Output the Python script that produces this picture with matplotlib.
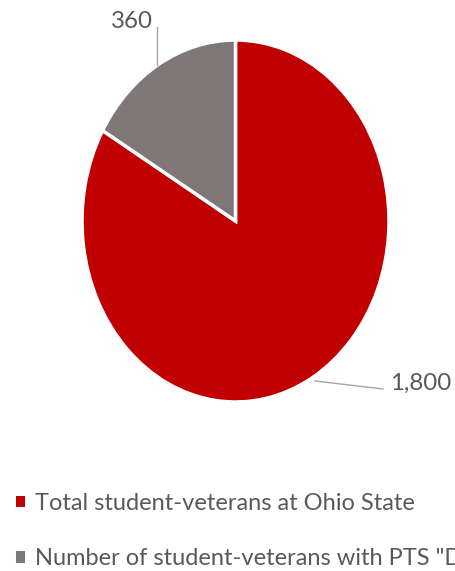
import matplotlib.pyplot as plt

# -------- Datos --------
categorias = ["Total student-veterans at Ohio State",
              "Number of student-veterans with PTS \"Disorder\""]
valores = [1800, 360]
etiquetas = ["1,800", "360"]
colores = ["#C00000", "#7F7777"]

# -------- Configuración --------
plt.rcParams['font.family'] = ['Lato', 'DejaVu Sans']
gris_texto = "#595959"
gris_linea = "#A6A6A6"

W, H = 456, 571
fig = plt.figure(figsize=(W / 100, H / 100), dpi=100)
renderer = fig.canvas.get_renderer()


def tam_por_ancho(texto, ancho_px):
    # tamaño de letra para que el texto ocupe ancho_px
    t = fig.text(0, 0, texto, fontsize=20)
    w = t.get_window_extent(renderer).width
    t.remove()
    return 20 * ancho_px / w


fs_leyenda = tam_por_ancho(categorias[0], 380)
fs_etiqueta = tam_por_ancho(etiquetas[1], 42)

# -------- Pastel (elipse, como en la imagen original) --------
cx, cy, rx, ry = 235.5, 221, 153.5, 181
ax = fig.add_axes([(cx - rx) / W, (H - cy - ry) / H, 2 * rx / W, 2 * ry / H])
wedges, _ = ax.pie(valores, colors=colores, startangle=90, counterclock=False,
                   radius=1, wedgeprops=dict(edgecolor="white", linewidth=2.5))
ax.set_aspect("auto")
ax.set_xlim(-1, 1)
ax.set_ylim(-1, 1)
ax.axis("off")

# -------- Etiquetas con líneas guía --------
ax.plot([0.518, 0.961], [-0.884, -0.928], color=gris_linea, lw=1, clip_on=False)
ax.text(1.005, -0.934, etiquetas[0], fontsize=fs_etiqueta, color=gris_texto,
        ha="left", va="baseline")
ax.plot([-0.511, -0.511], [0.86, 1.072], color=gris_linea, lw=1, clip_on=False)
ax.text(-0.537, 1.066, etiquetas[1], fontsize=fs_etiqueta, color=gris_texto,
        ha="right", va="baseline")

# -------- Leyenda --------
fs_px = fs_leyenda * 100 / 72
leg = fig.legend(wedges, categorias, loc="upper left",
                 bbox_to_anchor=(16 / W, 1 - 493 / H),
                 frameon=False, fontsize=fs_leyenda, labelcolor=gris_texto,
                 handlelength=9 / fs_px, handleheight=9 / fs_px,
                 handletextpad=10 / fs_px, labelspacing=(58 - fs_px) / fs_px,
                 borderpad=0, borderaxespad=0)
for h in leg.legend_handles:
    h.set_linewidth(0)

fig.savefig("out.png", dpi=100)
